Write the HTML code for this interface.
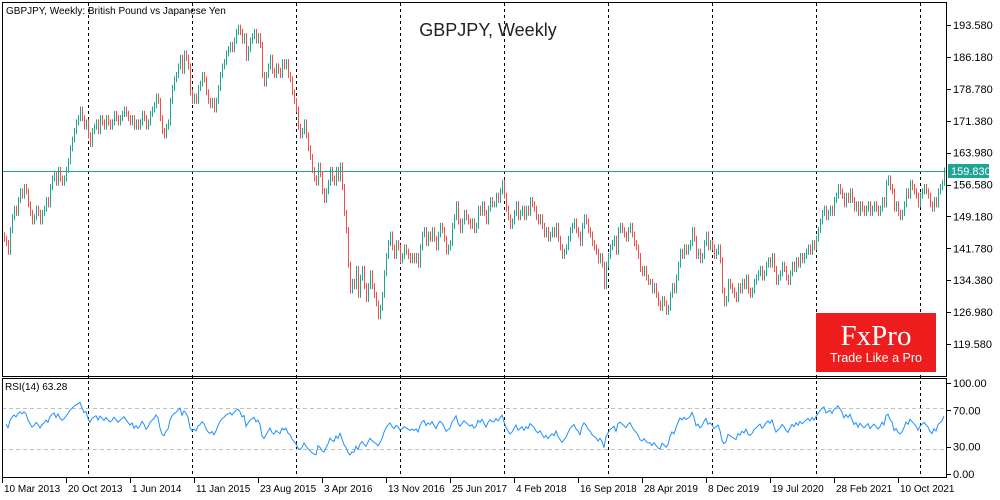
<!DOCTYPE html>
<html><head><meta charset="utf-8">
<style>
html,body{margin:0;padding:0;background:#fff;}
svg{display:block;font-family:"Liberation Sans",sans-serif;}
</style></head>
<body>
<svg id="chart" width="1000" height="500" viewBox="0 0 1000 500">
  <rect x="0" y="0" width="1000" height="500" fill="#fff"/>
  <g id="grid"></g>
  <g id="candles"></g>
  <line x1="2" y1="171.5" x2="947" y2="171.5" stroke="#20a595" stroke-width="1"/>
  <line x1="2" y1="408.5" x2="947" y2="408.5" stroke="#c0c0c0" stroke-dasharray="4,3"/>
  <line x1="2" y1="449.5" x2="947" y2="449.5" stroke="#c0c0c0" stroke-dasharray="4,3"/>
  <path id="rsi" fill="none" stroke="#1e90ff" stroke-width="1"/>
  <rect x="2.5" y="2.5" width="944" height="374" fill="none" stroke="#000"/>
  <rect x="2.5" y="378.5" width="944" height="99" fill="none" stroke="#000"/>
  <g id="paxis" font-size="11" fill="#000"></g>
  <g id="raxis" font-size="11" fill="#000"></g>
  <g id="taxis" font-size="10" fill="#000"></g>
  <rect x="948" y="164" width="41" height="14" fill="#20a595"/>
  <text x="951" y="175" font-size="11" fill="#fff">159.830</text>
  <text x="6" y="14" font-size="10" fill="#000">GBPJPY, Weekly:  British Pound vs Japanese Yen</text>
  <text x="488" y="36" font-size="18" fill="#222" text-anchor="middle">GBPJPY, Weekly</text>
  <text x="5" y="390" font-size="10" fill="#000">RSI(14) 63.28</text>
  <g>
    <rect x="816" y="313" width="120" height="59" fill="#ee1c1c"/>
    <text x="876" y="345" font-family="'Liberation Serif',serif" font-size="29" fill="#fff" text-anchor="middle">FxPro</text>
    <text x="876" y="362" font-size="12.5" fill="#fff" text-anchor="middle">Trade Like a Pro</text>
  </g>
</svg>
<script>
const closes = [
144,143,141,146,149,151,150,153,155,154,
156,155,152,150,148,149,151,150,148,150,
151,153,152,156,158,159,157,160,158,157,
158,160,162,165,167,169,171,172,174,172,
170,171,168,166,169,170,171,169,172,171,
170,172,171,170,171,173,172,171,172,173,
174,173,172,171,172,170,171,170,171,173,
172,170,171,173,174,175,177,176,172,169,
168,170,171,176,179,181,182,184,186,183,
187,186,184,178,176,177,176,179,180,182,
181,178,176,175,176,174,176,179,182,184,
185,187,188,189,188,190,192,193,192,190,
191,186,188,190,191,192,190,191,189,182,
180,182,184,186,183,182,184,183,182,185,
184,185,182,181,178,176,174,170,168,169,
171,168,165,163,160,158,157,161,159,155,
153,155,157,160,158,157,160,158,161,156,
150,146,138,132,134,133,137,131,135,137,
133,130,133,136,133,131,129,126,128,131,
136,140,143,145,142,140,143,142,139,140,
142,141,140,139,140,139,140,138,142,145,
146,143,145,144,146,144,142,145,147,146,
144,141,142,143,147,149,152,148,146,148,
150,149,148,147,148,146,147,151,150,152,
150,148,151,153,152,152,154,153,155,157,
154,151,149,147,148,150,152,149,150,151,
149,151,150,153,152,151,149,148,149,147,
145,146,144,145,146,145,147,144,142,140,
141,142,144,146,147,148,146,145,143,147,
149,148,146,145,143,142,141,139,140,138,
133,138,140,142,143,144,141,146,147,146,
145,144,146,147,145,143,142,140,137,136,
137,135,134,134,132,133,131,129,128,130,
129,127,128,131,133,132,135,138,141,140,
142,141,142,143,146,144,140,141,139,140,
143,145,142,143,142,140,141,142,139,132,
129,130,134,133,132,131,130,133,132,134,
133,135,132,131,132,134,135,136,137,135,
136,138,139,138,140,137,134,135,136,138,
137,135,134,136,138,137,139,138,140,139,
140,141,142,141,143,142,144,146,148,150,
151,149,150,151,150,153,154,156,155,154,
152,154,153,155,153,151,152,150,152,151,
150,151,152,150,151,152,151,150,151,153,
152,157,158,156,155,151,152,150,149,150,
152,155,154,157,156,155,154,152,154,155,
156,155,154,152,151,153,152,155,156,157,159.83
];
const priceTicks = [193.58,186.18,178.78,171.38,163.98,156.58,149.18,141.78,134.38,126.98,119.58];
const rsiTicks = [100,70,30,0];
const dateLabels = ["10 Mar 2013","20 Oct 2013","1 Jun 2014","11 Jan 2015","23 Aug 2015","3 Apr 2016","13 Nov 2016","25 Jun 2017","4 Feb 2018","16 Sep 2018","28 Apr 2019","8 Dec 2019","19 Jul 2020","28 Feb 2021","10 Oct 2021"];
const dateLabelWeeks = [0,32,64,96,128,160,192,224,256,288,320,352,384,416,448];
const yearStartWeeks = [42,94,146,198,250,302,354,406,458];

const NS = "http://www.w3.org/2000/svg";
const xOf = i => 4 + 2*i;
const yP = p => 344 - (p - 119.58) * 4.309;
const yR = r => 474 - r * 0.91;
function mk(tag, attrs, parent){ const e=document.createElementNS(NS,tag); for(const k in attrs) e.setAttribute(k,attrs[k]); parent.appendChild(e); return e; }

const grid=document.getElementById('grid');
yearStartWeeks.forEach(w=>{
  const l=mk('line',{x1:xOf(w)+0.5,y1:3,x2:xOf(w)+0.5,y2:478,stroke:'#000','stroke-dasharray':'3,3'},grid);
  
  
});

const cg=document.getElementById('candles');
closes.forEach((c,i)=>{
  const o = i===0 ? c+0.8 : closes[i-1];
  const hi = Math.max(o,c)+0.7, lo = Math.min(o,c)-0.7;
  const x = xOf(i)+0.5;
  const l=mk('line',{x1:x,y1:yP(hi),x2:x,y2:yP(lo),stroke: c>=o ? '#1ea596' : '#f0504a','stroke-width':1},cg);
  
  
});

let ag=0, al=0;
for(let i=1;i<=14;i++){ const ch=closes[i]-closes[i-1]; ag+=Math.max(ch,0)/14; al+=Math.max(-ch,0)/14; }
let d='';
for(let i=1;i<closes.length;i++){
  const ch=closes[i]-closes[i-1], g=Math.max(ch,0), ls=Math.max(-ch,0);
  ag=(ag*13+g)/14; al=(al*13+ls)/14;
  const r = al===0 ? 100 : 100-100/(1+ag/al);
  d += (i===1?'M':'L') + xOf(i) + ',' + yR(r).toFixed(1);
}
document.getElementById('rsi').setAttribute('d',d);

const pa=document.getElementById('paxis');
priceTicks.forEach(p=>{
  mk('line',{x1:947,y1:Math.round(yP(p))+0.5,x2:951,y2:Math.round(yP(p))+0.5,stroke:'#000'},pa);
  const t=mk('text',{x:953,y:yP(p)+4},pa); t.textContent=p.toFixed(3);
  
  
});
const ra=document.getElementById('raxis');
rsiTicks.forEach(r=>{
  mk('line',{x1:947,y1:Math.round(yR(r))+0.5,x2:951,y2:Math.round(yR(r))+0.5,stroke:'#000'},ra);
  const t=mk('text',{x:953,y:yR(r)+4},ra); t.textContent=r.toFixed(2);
  
  
});
const ta=document.getElementById('taxis');
dateLabels.forEach((s,k)=>{
  const x=xOf(dateLabelWeeks[k])-2;
  mk('line',{x1:x+0.5,y1:478,x2:x+0.5,y2:483,stroke:'#000'},ta);
  const t=mk('text',{x:x+2,y:492},ta); t.textContent=s;
  
  
});
</script>
</body></html>
